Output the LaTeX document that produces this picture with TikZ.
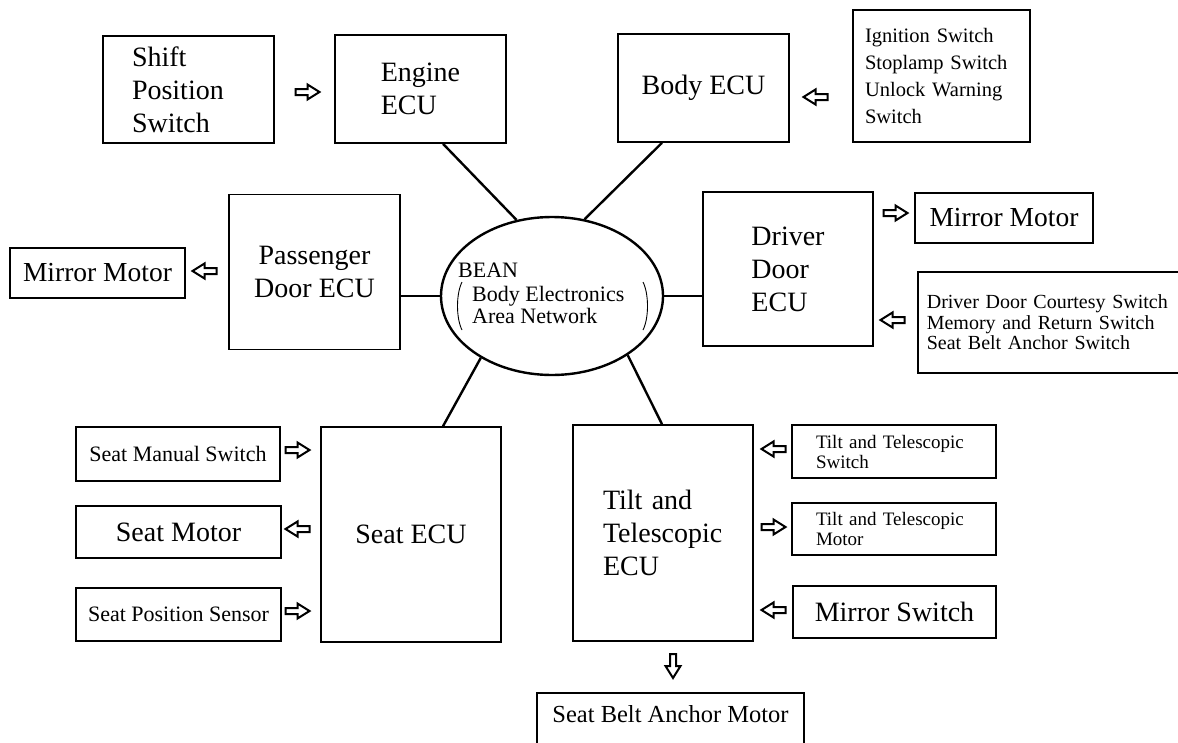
\documentclass[tikz,border=0pt]{standalone}
\usepackage{fontspec}
\setmainfont{Liberation Serif}
\usetikzlibrary{shapes.geometric}
% font sizes used in the diagram
\newcommand\szBig{\fontsize{28pt}{33pt}\selectfont}
\newcommand\szLbl{\fontsize{27.5pt}{32pt}\selectfont}
\newcommand\szList{\fontsize{20.5pt}{27pt}\selectfont}
\newcommand\szDrv{\fontsize{20pt}{20.5pt}\selectfont}
\newcommand\szTT{\fontsize{19pt}{20pt}\selectfont}
\newcommand\szSeat{\fontsize{22pt}{24pt}\selectfont}
\newcommand\szBean{\fontsize{22pt}{22pt}\selectfont}
\newcommand\szAnchor{\fontsize{24.5pt}{26pt}\selectfont}
\begin{document}
\begin{tikzpicture}[x=1pt,y=-1pt,
  box/.style={draw, line width=1.6pt, inner sep=0pt},
  link/.style={line width=2.4pt},
  hollowarrow/.pic={\draw[line width=2pt, line join=miter]
     (-12,-3) -- (0,-3) -- (0,-7.5) -- (12,0) -- (0,7.5) -- (0,3) -- (-12,3) -- cycle;}
]
\useasboundingbox (0,0) rectangle (1178,742);
\clip (0,0) rectangle (1178,742);

% ---- top row ----
\node[box, minimum width=171pt, minimum height=107pt, text width=113pt,
      inner xsep=29pt, align=left, font=\szBig] (shift) at (188.5,89.5)
      {Shift\\Position\\Switch};
\node[box, minimum width=171pt, minimum height=108pt, align=left, font=\szBig]
      (engine) at (420.5,89) {Engine\\ECU};
\node[box, minimum width=171pt, minimum height=108pt, font=\szBig]
      (body) at (703.5,88) {Body ECU};
\node[box, minimum width=177pt, minimum height=132pt, text width=153pt,
      inner xsep=12pt, align=left, font=\szList] (bodyin) at (941.5,76)
      {Ignition Switch\\Stoplamp Switch\\Unlock Warning\\Switch};

% ---- middle row ----
\node[box, minimum width=175pt, minimum height=50pt, font=\szLbl]
      (mirrorL) at (97.5,273) {Mirror Motor};
\node[box, minimum width=171pt, minimum height=155pt, align=center, font=\szBig]
      (passenger) at (314.5,272) {Passenger\\Door ECU};
\node[draw, ellipse, line width=2.4pt, minimum width=222pt, minimum height=158pt,
      inner sep=0pt] (bean) at (552,296) {};
\node[anchor=base west, inner sep=0pt, font=\szBean] (beanA) at (458,277) {BEAN};
\node[anchor=base west, inner sep=0pt, font=\szBean] (beanB) at (472,301) {Body Electronics};
\node[anchor=base west, inner sep=0pt, font=\szBean] (beanC) at (472,323) {Area Network};
\draw[line width=0.9pt] (462,282) .. controls (456,294) and (456,318) .. (462,330);
\draw[line width=0.9pt] (643,282) .. controls (649,294) and (649,318) .. (643,330);
\node[box, minimum width=170pt, minimum height=154pt, align=left, font=\szBig]
      (driver) at (788,269) {Driver\\Door\\ECU};
\node[box, minimum width=178pt, minimum height=50pt, font=\szLbl]
      (mirrorR) at (1004,218) {Mirror Motor};
\node[box, anchor=west, minimum height=101pt, text width=262pt, inner xsep=9pt,
      align=left, font=\szDrv] (drvin) at (917,322.5)
      {Driver Door Courtesy Switch\\Memory and Return Switch\\Seat Belt Anchor Switch};

% ---- bottom row ----
\node[box, minimum width=204pt, minimum height=54pt, font=\szSeat]
      (seatsw) at (178,454) {Seat Manual Switch};
\node[box, minimum width=205pt, minimum height=52pt, font=\szBig]
      (seatmot) at (178.5,532) {Seat Motor};
\node[box, minimum width=205pt, minimum height=53pt, font=\szSeat]
      (seatpos) at (178.5,614.5) {Seat Position Sensor};
\node[box, minimum width=180pt, minimum height=215pt, font=\szBig]
      (seat) at (411,534.5) {Seat ECU};
\node[box, minimum width=180pt, minimum height=216pt, text width=120pt,
      inner xsep=30pt, align=left, font=\szBig] (tilt) at (663,533)
      {Tilt and\\Telescopic\\ECU};
\node[box, minimum width=204pt, minimum height=53pt, text width=156pt,
      inner xsep=24pt, align=left, font=\szTT] (ttsw) at (894,451.5)
      {Tilt and Telescopic\\Switch};
\node[box, minimum width=204pt, minimum height=52pt, text width=156pt,
      inner xsep=24pt, align=left, font=\szTT] (ttmot) at (894,529)
      {Tilt and Telescopic\\Motor};
\node[box, minimum width=203pt, minimum height=52pt, font=\szBig]
      (mirsw) at (894.5,612) {Mirror Switch};
\node[box, anchor=north, minimum width=267pt, text height=22pt, text depth=60pt,
      inner ysep=8pt, font=\szAnchor] (anchor) at (670.5,692)
      {Seat Belt Anchor Motor};

% ---- bus connections ----
\draw[link] ([xshift=22.5pt]engine.south) -- (bean.115);
\draw[link] ([xshift=-41.5pt]body.south) -- (bean.67);
\draw[link] (bean.west -| passenger.east) -- (bean.west);
\draw[link] (bean.east) -- (bean.east -| driver.west);
\draw[link] (bean.221) -- ([xshift=32pt]seat.north);
\draw[link] (bean.322) -- ([xshift=-1pt]tilt.north);

% ---- signal direction arrows ----
\pic at (307.5,92) {hollowarrow};
\pic[rotate=180] at (815.5,97) {hollowarrow};
\pic[rotate=180] at (204.5,271) {hollowarrow};
\pic at (895.5,213) {hollowarrow};
\pic[rotate=180] at (892.5,320) {hollowarrow};
\pic at (297.5,450) {hollowarrow};
\pic[rotate=180] at (297.5,529) {hollowarrow};
\pic at (297.5,611) {hollowarrow};
\pic[rotate=180] at (773.5,449) {hollowarrow};
\pic at (773.5,527) {hollowarrow};
\pic[rotate=180] at (773.5,610) {hollowarrow};
\pic[rotate=-90] at (673,666) {hollowarrow};
\end{tikzpicture}
\end{document}
